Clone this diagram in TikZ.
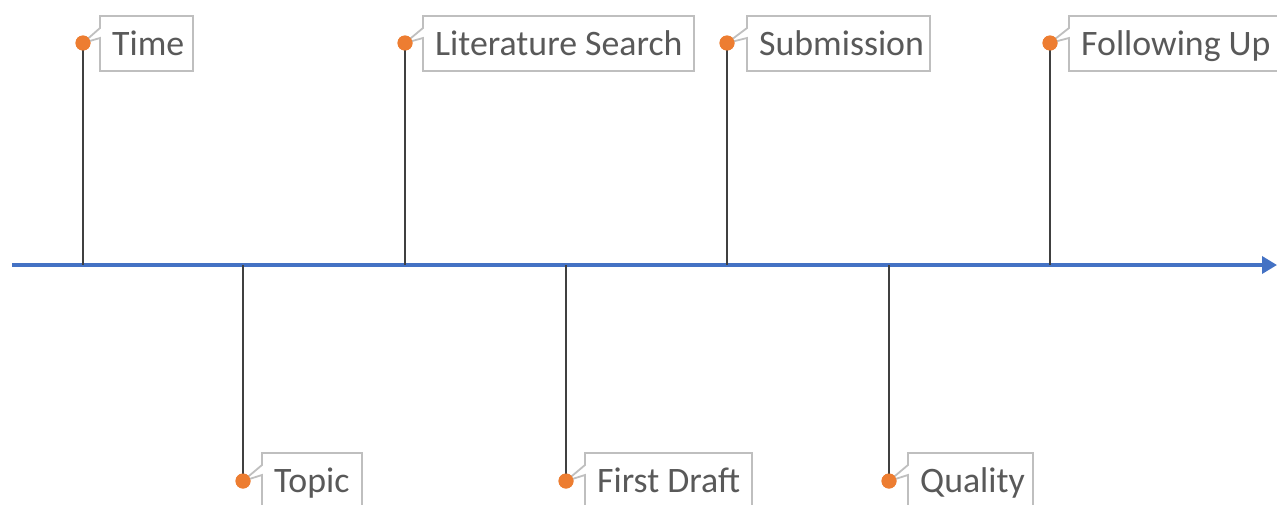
\documentclass[tikz,border=0pt]{standalone}
\usepackage{fontspec}
\setmainfont{Carlito}
\usetikzlibrary{arrows.meta}
\definecolor{axisblue}{HTML}{4472C4}
\definecolor{stemgray}{HTML}{404040}
\definecolor{dotorange}{HTML}{ED7D31}
\definecolor{framegray}{HTML}{BFBFBF}
\definecolor{textgray}{HTML}{595959}
\tikzset{
  axisline/.style={draw=axisblue, line width=3.5pt, -{Triangle[length=15pt,width=17pt]}},
  stem/.style={draw=stemgray, line width=2.6pt},
  dotnode/.style={circle, fill=dotorange, inner sep=0pt, minimum size=15pt},
  lbl/.style={text=textgray, font=\fontsize{35.8}{40}\selectfont, anchor=base west, inner sep=0pt},
  frame/.style={draw=framegray, line width=1.8pt, fill=white, line join=miter},
}
% #1 id, #2 dot x, #3 dot y, #4 left, #5 right, #6 top, #7 bottom, #8 text
\newcommand{\milestone}[8]{%
  \coordinate (a#1) at (#2,265);
  \node[dotnode] (d#1) at (#2,#3) {};
  \draw[stem] (d#1.center) -- (a#1);
  \draw[frame] (#4,#6) -- (#5,#6) -- (#5,#7) -- (#4,#7) -- (#4,#6+22) -- (d#1.center) -- (#4,#6+12) -- cycle;
  \node[dotnode] at (d#1.center) {};
  \node[lbl] (t#1) at (#4+12,#6+39) {#8};
}
\begin{document}
\begin{tikzpicture}[x=1pt,y=-1pt]
  \useasboundingbox (0,0) rectangle (1277,504);
  \clip (0,0) rectangle (1277,504);
  \coordinate (start) at (12,265);
  \coordinate (end) at (1277,265);
  \draw[axisline] (start) -- (end);
  \milestone{1}{83}{43}{100}{193}{16}{71}{Time}
  \milestone{2}{243}{481}{262}{362}{453}{510}{Topic}
  \milestone{3}{405}{43}{423}{694}{16}{71}{Literature Search}
  \milestone{4}{566}{481}{585}{752}{453}{510}{First Draft}
  \milestone{5}{727}{43}{747}{930}{16}{71}{Submission}
  \milestone{6}{889}{481}{908}{1033}{453}{510}{Quality}
  \milestone{7}{1050}{43}{1069}{1300}{16}{71}{Following Up}
\end{tikzpicture}
\end{document}
